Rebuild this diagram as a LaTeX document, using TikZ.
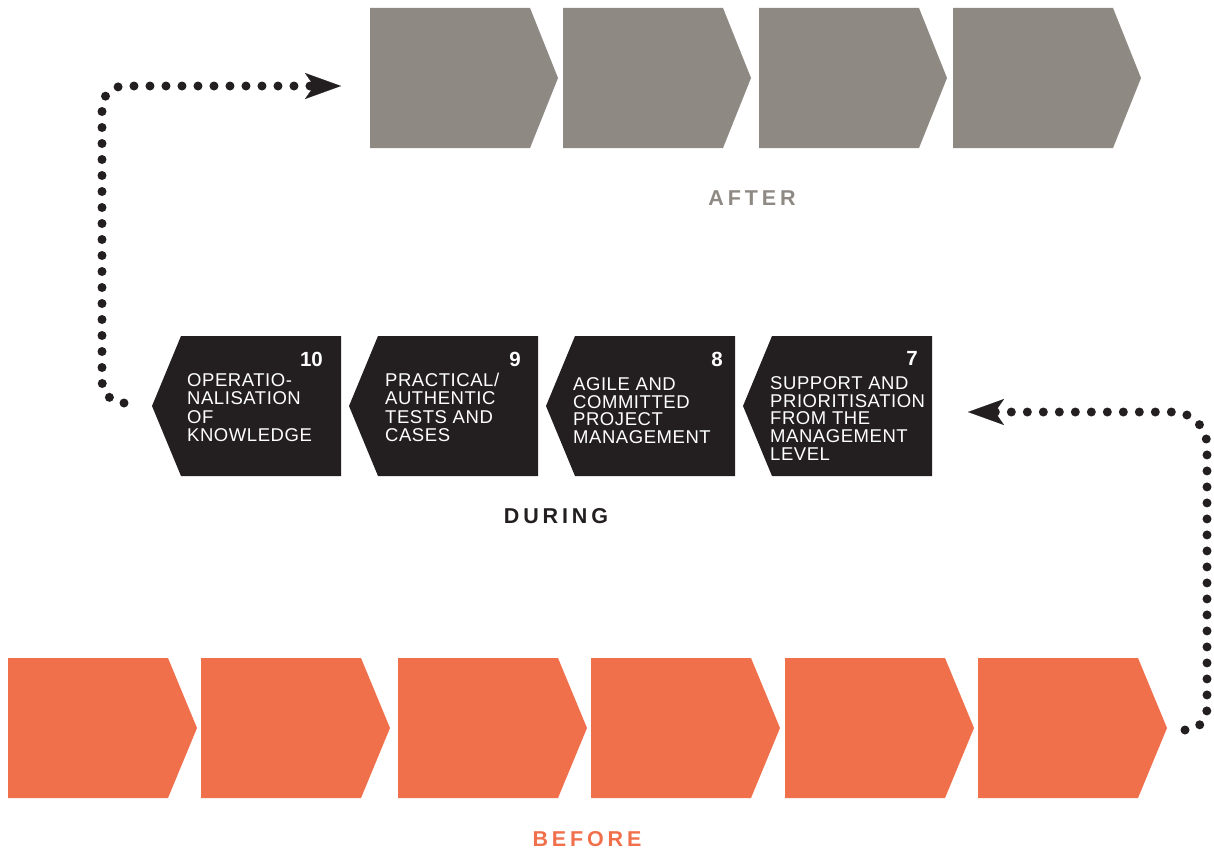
\documentclass[tikz,border=0pt]{standalone}
\usepackage{fontspec}
\setmainfont{Liberation Sans}
\newfontfamily\lblfont[LetterSpace=18]{Liberation Sans}
\newfontfamily\boxfont[LetterSpace=3]{Liberation Sans}
\usetikzlibrary{arrows.meta}
\definecolor{aftergrey}{RGB}{143,137,132}
\definecolor{beforeorange}{RGB}{241,112,76}
\definecolor{duringblack}{RGB}{35,31,32}
\begin{document}
\begin{tikzpicture}[x=1pt,y=-1pt,
  lbl/.style={font=\lblfont\bfseries\fontsize{21.5}{21.5}\selectfont, inner sep=0pt},
  boxtxt/.style={font=\boxfont\fontsize{18.5}{18.2}\selectfont, text=white, align=left, anchor=north west, inner sep=0pt},
  boxtxtb/.style={boxtxt, font=\boxfont\fontsize{18.5}{17.6}\selectfont},
  numtxt/.style={font=\bfseries\fontsize{20.5}{20.5}\selectfont, text=white, anchor=north east, inner sep=0pt},
  dotline/.style={line width=9pt, line cap=round, dash pattern=on 0pt off 16pt, draw=duringblack,
    -{Stealth[length=36pt,width=26pt,inset=9pt,line width=0.1pt]}}]
\useasboundingbox (0,0) rectangle (1214,851);
% AFTER row
\foreach \x in {370,563,759,953}
  \fill[aftergrey] (\x,8) -- (\x+160,8) -- (\x+188,78) -- (\x+160,148) -- (\x,148) -- cycle;
% BEFORE row
\foreach \x in {8,201,398,591,785,978}
  \fill[beforeorange] (\x,658) -- (\x+160,658) -- (\x+189,728) -- (\x+160,798) -- (\x,798) -- cycle;
% DURING row
\foreach \x in {152,349,546,743}
  \fill[duringblack] (\x+29,336) -- (\x+189,336) -- (\x+189,476) -- (\x+29,476) -- (\x,406) -- cycle;
% texts in DURING boxes
\node[boxtxt] (t10) at (187,373.5) {OPERATIO-\\NALISATION\\OF\\KNOWLEDGE};
\node[numtxt] (n10) at (323,351.5) {10};
\node[boxtxt] (t9) at (385,373) {PRACTICAL/\\AUTHENTIC\\TESTS AND\\CASES};
\node[numtxt] (n9) at (521,351.5) {9};
\node[boxtxtb] (t8) at (573,377.5) {AGILE AND\\COMMITTED\\PROJECT\\MANAGEMENT};
\node[numtxt] (n8) at (723,351.5) {8};
\node[boxtxtb] (t7) at (770,376.5) {SUPPORT AND\\PRIORITISATION\\FROM THE\\MANAGEMENT\\LEVEL};
\node[numtxt] (n7) at (918,351.5) {7};
% row labels
\node[lbl, text=aftergrey] (after) at (752,198) {AFTER};
\node[lbl, text=duringblack] (during) at (556,516) {DURING};
\node[lbl, text=beforeorange] (before) at (587,839) {BEFORE};
% connectors
\coordinate (s1) at (124,403);
\coordinate (k1) at (102,403);
\coordinate (k2) at (102,86);
\coordinate (e1) at (341,86);
\draw[dotline, rounded corners=22pt] (s1) -- (k1) -- (k2) -- (e1);
\coordinate (s2) at (1185,730);
\coordinate (k3) at (1207,730);
\coordinate (k4) at (1207,412);
\coordinate (e2) at (968,412);
\draw[dotline] (s2) [rounded corners=21pt] -- (k3) [rounded corners=34pt] -- (k4) -- (e2);
\end{tikzpicture}
\end{document}
